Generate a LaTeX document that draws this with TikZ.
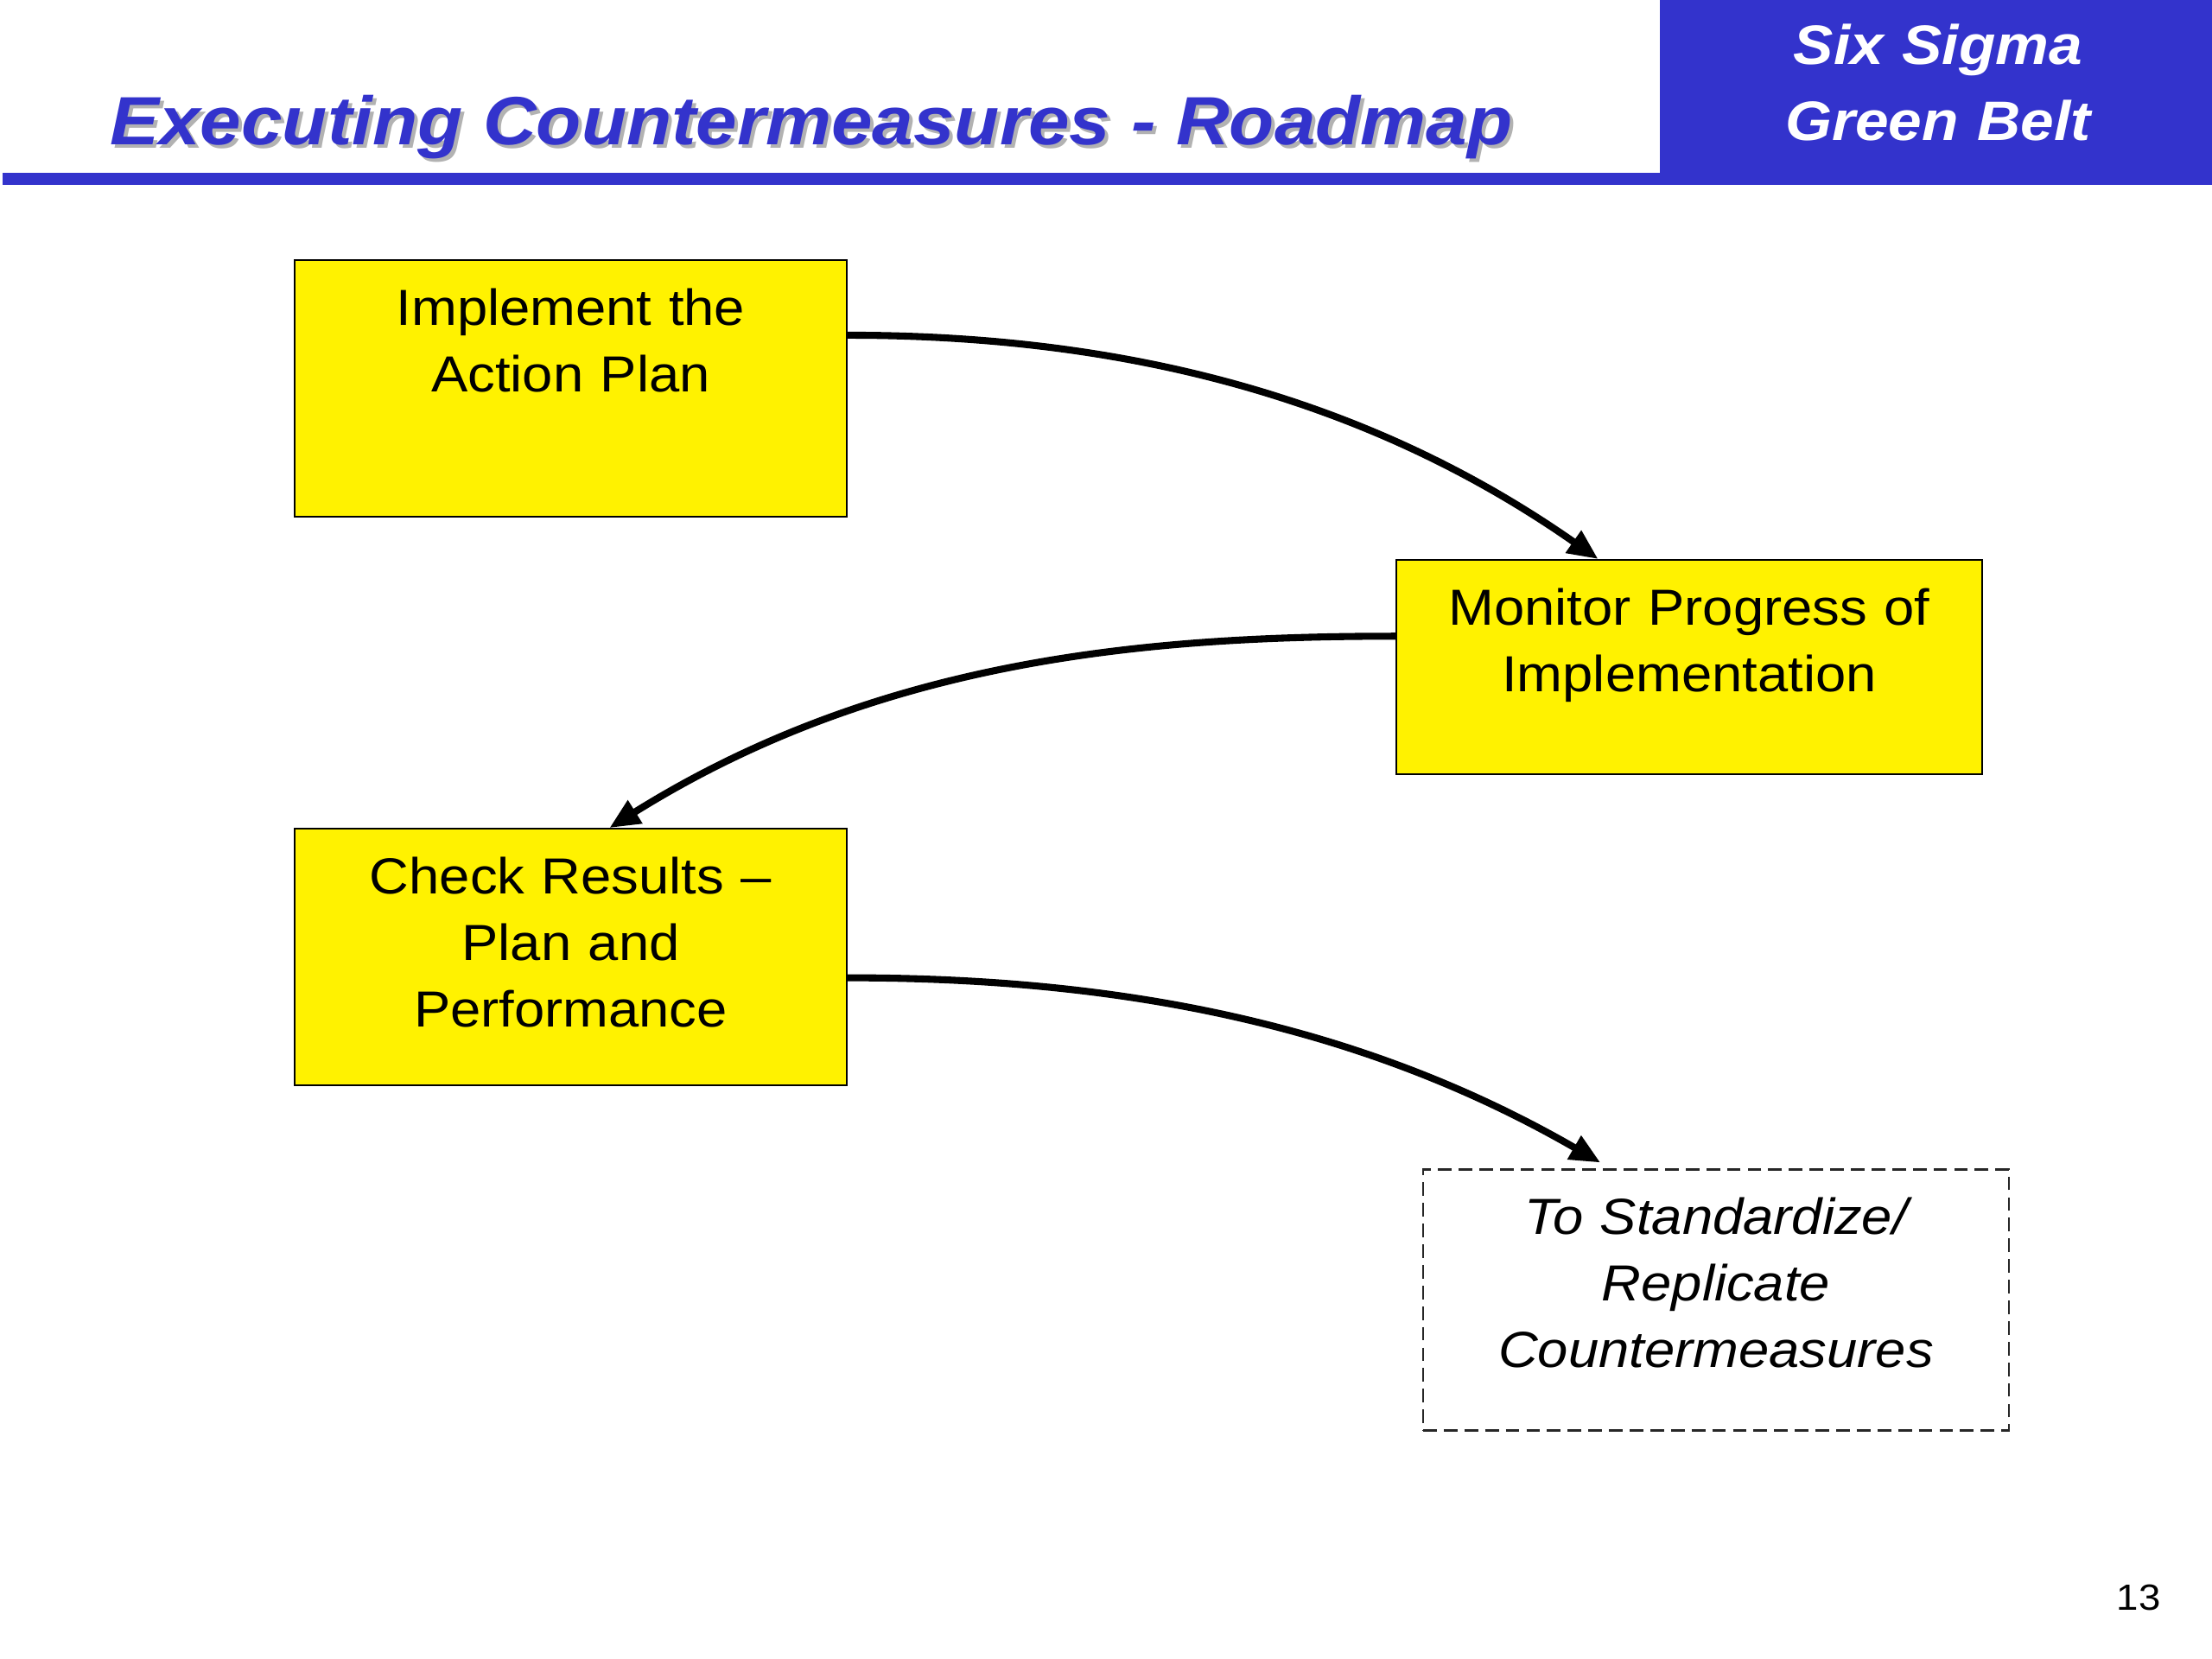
\documentclass[tikz,border=0pt]{standalone}
\usepackage{fontspec}
\setmainfont{Liberation Sans}[FakeStretch=1.08]
\usepackage{tikz}
\usetikzlibrary{calc,arrows.meta,positioning}
\definecolor{beltblue}{RGB}{51,51,204}

\begin{document}
\begin{tikzpicture}[>={Triangle[length=10pt,width=8.5pt]}, flow/.style={draw=black, line width=2.3pt}, boxtext/.style={font=\fontsize{16.7}{21.9}\selectfont}]
    % Define styles for the roadmap steps
    \tikzstyle{block} = [draw=black, line width=0.6pt, fill=yellow, rectangle, anchor=north, align=center, inner xsep=0.2cm, inner ysep=0.2cm, text height=0.55cm, boxtext]
    \tikzstyle{dashedblock} = [block, fill=none, draw=black!85, line width=0.8pt, dash pattern=on 4.5pt off 2.3pt, font=\fontsize{16.7}{21.9}\selectfont\itshape]
    \useasboundingbox (0,0) rectangle (25.6,-19.2);

    % Header band
    \fill[beltblue] (0.03,-2.00) rectangle (19.22,-2.14);
    \fill[beltblue] (19.21,0) rectangle (25.6,-2.14);
    \node [anchor=base west, text=black!30, font=\fontsize{22.5}{27}\selectfont\bfseries\itshape] (titleshadow) at (1.19,-1.72) {Executing Countermeasures - Roadmap};
    \node [anchor=base west, text=beltblue, font=\fontsize{22.5}{27}\selectfont\bfseries\itshape] (title) at (1.15,-1.68) {Executing Countermeasures - Roadmap};
    \node [anchor=base, text=white, text width=6cm, align=center, font=\fontsize{18.3}{25}\selectfont\bfseries\itshape] (belt) at (22.43,-0.75) {Six Sigma\\Green Belt};

    % Nodes placement
    \node [block, text width=5.99cm, text depth=2.02cm] (implement) at (6.605,-3.00) {Implement the\\Action Plan};
    \node [block, text width=6.38cm, text depth=1.53cm] (monitor) at (19.55,-6.47) {Monitor Progress of\\Implementation};
    \node [block, text width=5.99cm, text depth=2.02cm, below=3.59cm of implement] (check) {Check Results --\\Plan and\\Performance};
    \node [dashedblock, text width=6.38cm, text depth=2.07cm] (replicate) at (19.86,-13.52) {To Standardize/\\Replicate\\Countermeasures};

    % Draw edges
    \draw[flow,->] ($(implement.north east)!0.294!(implement.south east)$) to[out=0,in=145,out looseness=0.8] ($(monitor.north west)!0.345!(monitor.north east)$);
    \draw[flow,->] ($(monitor.north west)!0.357!(monitor.south west)$) to[out=180,in=32,out looseness=0.8] ($(check.north west)!0.57!(check.north east)$);
    \draw[flow,->,shorten >=1.3mm] ($(check.north east)!0.58!(check.south east)$) to[out=0,in=150,out looseness=0.8] ($(replicate.north west)!0.32!(replicate.north east)$);

    % Page number
    \node [anchor=base east, font=\fontsize{12}{14}\selectfont] (pagenum) at (25.13,-18.63) {13};
\end{tikzpicture}
\end{document}
